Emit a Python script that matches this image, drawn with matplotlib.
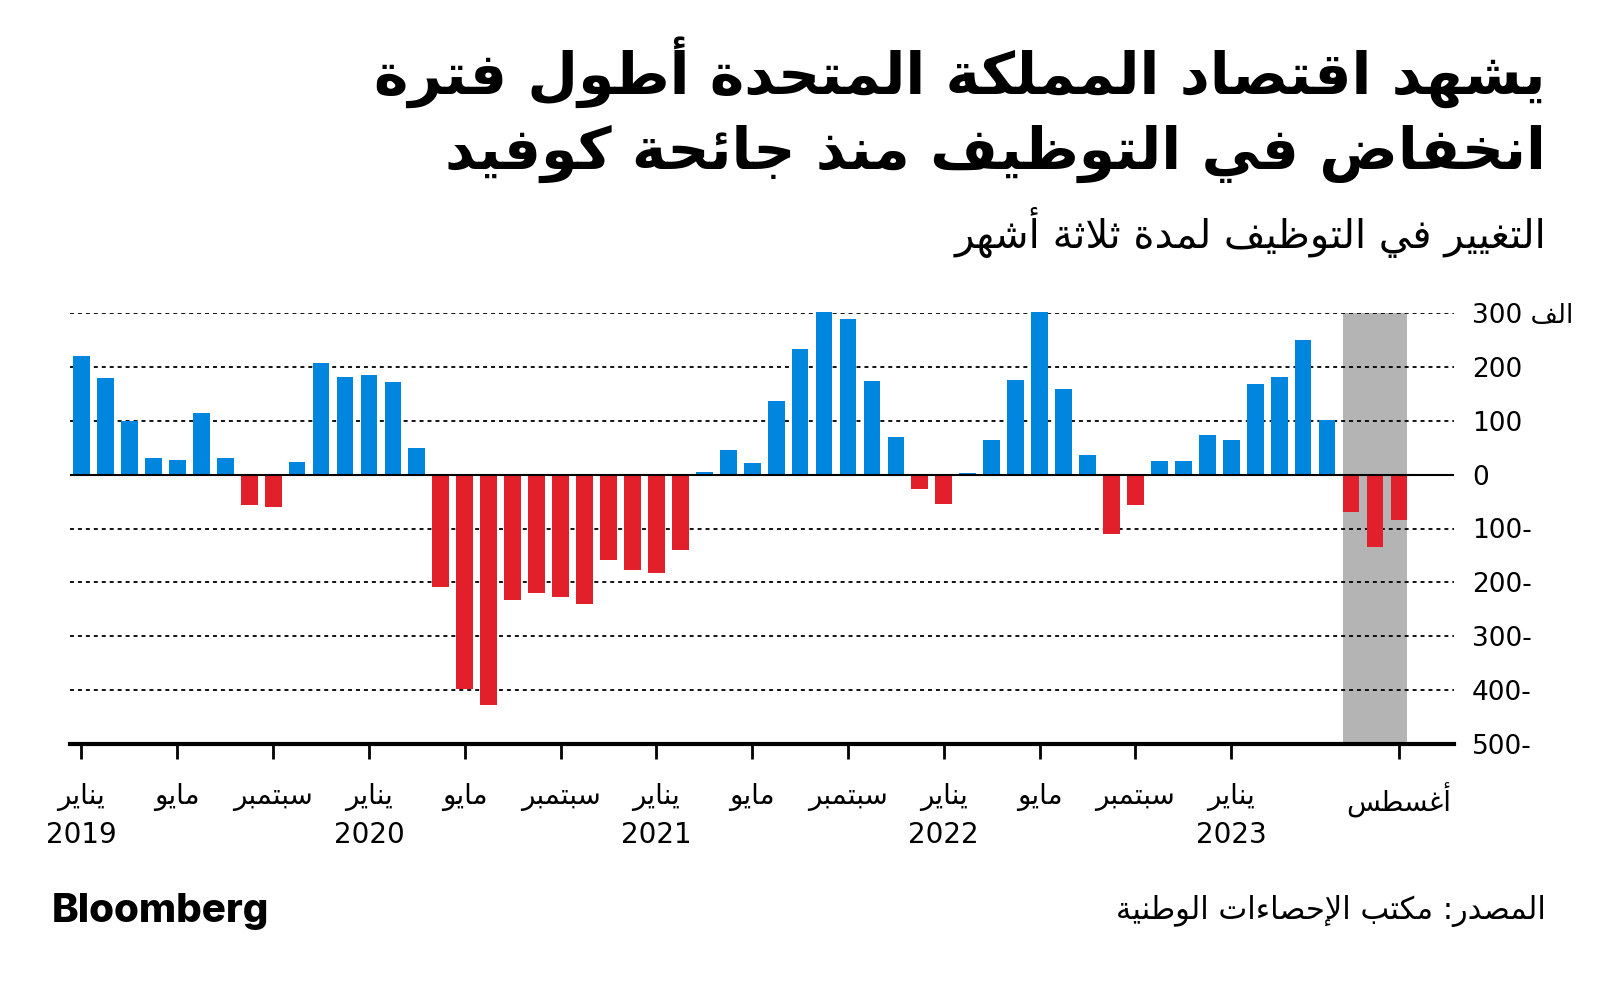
import numpy as np
import matplotlib
matplotlib.use('Agg')
import matplotlib.pyplot as plt

# --- minimal Arabic shaping (presentation forms + RTL order) ---
DUAL = {0x0626: 0xFE89, 0x0628: 0xFE8F, 0x062A: 0xFE95, 0x062B: 0xFE99, 0x062C: 0xFE9D,
        0x062D: 0xFEA1, 0x062E: 0xFEA5, 0x0633: 0xFEB1, 0x0634: 0xFEB5, 0x0635: 0xFEB9,
        0x0636: 0xFEBD, 0x0637: 0xFEC1, 0x0638: 0xFEC5, 0x0639: 0xFEC9, 0x063A: 0xFECD,
        0x0641: 0xFED1, 0x0642: 0xFED5, 0x0643: 0xFED9, 0x0644: 0xFEDD, 0x0645: 0xFEE1,
        0x0646: 0xFEE5, 0x0647: 0xFEE9, 0x064A: 0xFEF1}
RIGHT = {0x0622: 0xFE81, 0x0623: 0xFE83, 0x0624: 0xFE85, 0x0625: 0xFE87, 0x0627: 0xFE8D,
         0x0629: 0xFE93, 0x062F: 0xFEA9, 0x0630: 0xFEAB, 0x0631: 0xFEAD, 0x0632: 0xFEAF,
         0x0648: 0xFEED, 0x0649: 0xFEEF}
NONJ = {0x0621: 0xFE80}
LAM_ALEF = {0x0622: 0xFEF5, 0x0623: 0xFEF7, 0x0625: 0xFEF9, 0x0627: 0xFEFB}


def ar(text):
    units = []
    i = 0
    while i < len(text):
        c = ord(text[i])
        if c == 0x0644 and i + 1 < len(text) and ord(text[i + 1]) in LAM_ALEF:
            units.append(('LA', ord(text[i + 1])))
            i += 2
        else:
            units.append(('C', c))
            i += 1
    out = []
    for k, (kind, c) in enumerate(units):
        prev = units[k - 1] if k > 0 else None
        nxt = units[k + 1] if k + 1 < len(units) else None
        pj = prev is not None and prev[0] == 'C' and prev[1] in DUAL
        if kind == 'LA':
            out.append(chr(LAM_ALEF[c] + (1 if pj else 0)))
            continue
        if c in DUAL:
            nj = nxt is not None and (nxt[0] == 'LA' or nxt[1] in DUAL or nxt[1] in RIGHT)
            b = DUAL[c]
            f = b + 3 if (pj and nj) else b + 1 if pj else b + 2 if nj else b
            out.append(chr(f))
        elif c in RIGHT:
            out.append(chr(RIGHT[c] + (1 if pj else 0)))
        elif c in NONJ:
            out.append(chr(NONJ[c]))
        else:
            out.append(chr(c))
    return ''.join(out)[::-1]


# --- data: 3-month change in employment, thousands, Jan 2019 .. Aug 2023 ---
values = [221, 179, 100, 31, 28, 115, 31, -57, -60, 23, 207, 181,
          184, 172, 50, -208, -398, -427, -232, -219, -228, -241, -159, -177,
          -183, -139, 5, 46, 22, 137, 234, 301, 289, 173, 70, -27,
          -54, 3, 64, 176, 301, 159, 37, -111, -56, 26, 26, 73,
          65, 168, 181, 249, 101, -69, -134, -85]
tick_idx = [0, 4, 8, 12, 16, 20, 24, 28, 32, 36, 40, 44, 48, 55]
tick_months = ['يناير', 'مايو', 'سبتمبر', 'يناير', 'مايو', 'سبتمبر', 'يناير', 'مايو',
               'سبتمبر', 'يناير', 'مايو', 'سبتمبر', 'يناير', 'أغسطس']
year_idx = [0, 12, 24, 36, 48]
years = ['2019', '2020', '2021', '2022', '2023']
yticks = [300, 200, 100, 0, -100, -200, -300, -400, -500]
highlight = (53, 55)

title1 = 'يشهد اقتصاد المملكة المتحدة أطول فترة'
title2 = 'انخفاض في التوظيف منذ جائحة كوفيد'
subtitle = 'التغيير في التوظيف لمدة ثلاثة أشهر'
source = 'المصدر: مكتب الإحصاءات الوطنية'

BLUE = '#0086DE'
RED = '#E2202B'

plt.rcParams['font.family'] = ['DejaVu Sans']

fig = plt.figure(figsize=(16, 9.89), dpi=100)
ax = fig.add_axes([70 / 1600, 1 - 744 / 989, 1384 / 1600, 431 / 989])

x = np.arange(len(values))
colors = [BLUE if v >= 0 else RED for v in values]
ax.bar(x, values, width=0.7, color=colors, zorder=2, clip_on=False)
ax.axvspan(highlight[0] - 0.35, highlight[1] + 0.35, color='#B4B4B4', zorder=0, lw=0)

for yv in yticks[:-1]:
    if yv == 0:
        ax.axhline(0, color='black', lw=1.5, zorder=3)
    else:
        ax.axhline(yv, color='black', lw=1.3, ls=(0, (2.2, 2.2)), zorder=1)

ax.set_xlim(-0.48, 57.3)
ax.set_ylim(-500, 300)

for s in ['top', 'left', 'right']:
    ax.spines[s].set_visible(False)
ax.spines['bottom'].set_linewidth(3)
ax.spines['bottom'].set_position(('data', -500))

ax.yaxis.tick_right()
ax.set_yticks(yticks)
ylabels = []
for v in yticks:
    if v == 300:
        ylabels.append('300 ' + ar('الف'))
    elif v < 0:
        ylabels.append(f'{-v}-')
    else:
        ylabels.append(str(v))
ax.set_yticklabels(ylabels, fontsize=19)
ax.tick_params(axis='y', length=0, pad=13)

ax.set_xticks(tick_idx)
ax.set_xticklabels([ar(m) for m in tick_months], fontsize=20)
ax.tick_params(axis='x', length=11, width=2, pad=17, direction='out')

for i, yr in zip(year_idx, years):
    ax.annotate(yr, xy=(i, 0), xycoords=('data', 'axes fraction'),
                xytext=(0, -91), textcoords='offset pixels',
                ha='center', va='center', fontsize=20)

# titles
fig.text(1546 / 1600, 1 - 72 / 989, ar(title1), ha='right', va='center',
         fontsize=42, fontweight='bold')
fig.text(1546 / 1600, 1 - 154 / 989, ar(title2), ha='right', va='center',
         fontsize=42, fontweight='bold')
fig.text(1546 / 1600, 1 - 232 / 989, ar(subtitle), ha='right', va='center',
         fontsize=29)

fig.text(1546 / 1600, 1 - 911 / 989, ar(source), ha='right', va='center', fontsize=22)
fig.text(52 / 1600, 1 - 911 / 989, 'Bloomberg', ha='left', va='center',
         fontsize=29, fontweight='heavy', family=['Inter', 'Liberation Sans', 'DejaVu Sans'])

fig.savefig('out.png', dpi=100)
